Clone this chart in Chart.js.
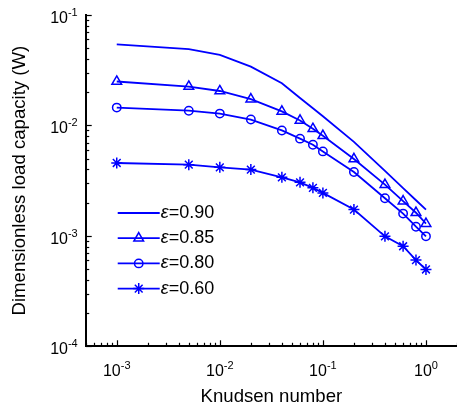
<!DOCTYPE html>
<html>
<head>
<meta charset="utf-8">
<script src="https://cdn.jsdelivr.net/npm/chart.js@4.4.1/dist/chart.umd.min.js"></script>
<style>
  html, body { margin: 0; padding: 0; background: #fff; }
  #wrap { width: 457px; height: 412px; }
</style>
</head>
<body>
<div id="wrap"><canvas id="chart" width="457" height="412"></canvas></div>
<script>
  // Knudsen number (x) and dimensionless load capacity W (y)
  const knudsen = [0.001, 0.005, 0.01, 0.02, 0.04, 0.06, 0.08, 0.1, 0.2, 0.4, 0.6, 0.8, 1.0];
  const eps090 = [0.0543, 0.049, 0.0435, 0.0341, 0.0241, 0.0177, 0.0143, 0.0121, 0.0071, 0.00387, 0.00271, 0.0021, 0.00173];
  const eps085 = [0.025, 0.0225, 0.0205, 0.0173, 0.0134, 0.0111, 0.00933, 0.00807, 0.00497, 0.00291, 0.00206, 0.00162, 0.00129];
  const eps080 = [0.0145, 0.0136, 0.0128, 0.0113, 0.00901, 0.00759, 0.00669, 0.00582, 0.00379, 0.00219, 0.00159, 0.00121, 0.00099];
  const eps060 = [0.00457, 0.00441, 0.00417, 0.00398, 0.00339, 0.00305, 0.00272, 0.00245, 0.00173, 0.00099, 0.000805, 0.000603, 0.000496];

  const seriesLabels = ['ε=0.90', 'ε=0.85', 'ε=0.80', 'ε=0.60'];
  const xDecades = [-3, -2, -1, 0];
  const yDecades = [-4, -3, -2, -1];
  const xRange = [5e-4, 2];
  const yRange = [1e-4, 1e-1];

  const BLUE = '#0000ff';
  const FONT = '"Liberation Sans", Arial, sans-serif';

  function logTicks(min, max) {
    const out = [];
    for (let e = Math.floor(Math.log10(min)); e <= Math.ceil(Math.log10(max)); e++) {
      for (let m = 1; m < 10; m++) {
        const v = m * Math.pow(10, e);
        if (v >= min * 0.999 && v <= max * 1.001) out.push({ v, major: m === 1 });
      }
    }
    return out;
  }

  // "10" with a raised exponent, the way the original axis labels look
  function powerLabel(ctx, exp, x, baseline, align) {
    ctx.font = '16px ' + FONT;
    const wBase = ctx.measureText('10').width;
    ctx.font = '11px ' + FONT;
    const expText = String(exp);
    const wExp = ctx.measureText(expText).width;
    const total = wBase + wExp;
    const start = align === 'center' ? x - total / 2 : x - total;
    ctx.textAlign = 'left';
    ctx.textBaseline = 'alphabetic';
    ctx.font = '16px ' + FONT;
    ctx.fillText('10', start, baseline);
    ctx.font = '11px ' + FONT;
    ctx.fillText(expText, start + wBase, baseline - 7);
  }

  const axesPlugin = {
    id: 'matlabAxes',
    afterDraw(chart) {
      const { ctx, chartArea: a, scales: { x, y } } = chart;
      ctx.save();
      ctx.strokeStyle = '#000';
      ctx.fillStyle = '#000';
      ctx.lineWidth = 1.2;

      logTicks(xRange[0], xRange[1]).forEach((t) => {
        const px = Math.round(x.getPixelForValue(t.v)) + 0.5;
        const len = t.major ? 6 : 3.5;
        ctx.beginPath();
        ctx.moveTo(px, a.bottom);
        ctx.lineTo(px, a.bottom - len);
        ctx.stroke();
      });
      logTicks(yRange[0], yRange[1]).forEach((t) => {
        const py = Math.round(y.getPixelForValue(t.v)) + 0.5;
        const len = t.major ? 6 : 3.5;
        ctx.beginPath();
        ctx.moveTo(a.left, py);
        ctx.lineTo(a.left + len, py);
        ctx.stroke();
      });

      xDecades.forEach((e) => {
        powerLabel(ctx, e, x.getPixelForValue(Math.pow(10, e)), a.bottom + 30, 'center');
      });
      yDecades.forEach((e) => {
        powerLabel(ctx, e, a.left - 8, y.getPixelForValue(Math.pow(10, e)) + 8, 'right');
      });
      ctx.restore();
    }
  };

  const legendPlugin = {
    id: 'insideLegend',
    afterDraw(chart) {
      const { ctx, chartArea: a } = chart;
      const drawPoint = Chart.helpers && Chart.helpers.drawPoint;
      ctx.save();
      chart.data.datasets.forEach((ds, i) => {
        const yc = a.top + 198 + i * 25.2;
        const x0 = a.left + 32;
        const x1 = a.left + 74;
        ctx.strokeStyle = BLUE;
        ctx.lineWidth = ds.borderWidth;
        ctx.beginPath();
        ctx.moveTo(x0, yc);
        ctx.lineTo(x1, yc);
        ctx.stroke();
        if (ds.pointRadius > 0 && drawPoint) {
          ctx.fillStyle = 'rgba(0,0,0,0)';
          ctx.lineWidth = ds.pointBorderWidth;
          drawPoint(ctx, { pointStyle: ds.pointStyle, radius: ds.pointRadius, rotation: 0, borderWidth: ds.pointBorderWidth }, (x0 + x1) / 2, yc);
        }
        ctx.fillStyle = '#000';
        ctx.textBaseline = 'middle';
        ctx.textAlign = 'left';
        ctx.font = 'italic 18px ' + FONT;
        const g = ds.label.charAt(0);
        ctx.fillText(g, x1 + 1, yc);
        const wg = ctx.measureText(g).width;
        ctx.font = '18px ' + FONT;
        ctx.fillText(ds.label.slice(1), x1 + 1 + wg, yc);
      });
      ctx.restore();
    }
  };

  function makeSeries(label, values, pointStyle, radius) {
    return {
      label,
      data: knudsen.map((k, i) => ({ x: k, y: values[i] })),
      borderColor: BLUE,
      backgroundColor: 'rgba(0,0,0,0)',
      borderWidth: 1.8,
      pointStyle,
      pointRadius: radius,
      pointBorderWidth: 1.5,
      pointBorderColor: BLUE,
      pointBackgroundColor: 'rgba(0,0,0,0)',
      tension: 0,
      fill: false
    };
  }

  new Chart(document.getElementById('chart'), {
    type: 'line',
    data: {
      datasets: [
        makeSeries(seriesLabels[0], eps090, 'circle', 0),
        makeSeries(seriesLabels[1], eps085, 'triangle', 5.6),
        makeSeries(seriesLabels[2], eps080, 'circle', 4.2),
        makeSeries(seriesLabels[3], eps060, 'star', 5.5)
      ]
    },
    options: {
      responsive: false,
      animation: false,
      devicePixelRatio: 1,
      layout: { autoPadding: false, padding: { top: 15, left: 0, right: 0, bottom: 0 } },
      plugins: {
        legend: { display: false },
        tooltip: { enabled: false }
      },
      scales: {
        x: {
          type: 'logarithmic',
          position: 'bottom',
          min: xRange[0],
          max: xRange[1],
          grid: { display: false, drawTicks: true, tickLength: 39.4 },
          border: { display: true, color: '#000', width: 2 },
          ticks: { display: false },
          title: {
            display: true,
            text: 'Knudsen number',
            color: '#000',
            font: { size: 18.6, family: FONT },
            padding: { top: 0, bottom: 4 }
          }
        },
        y: {
          type: 'logarithmic',
          position: 'left',
          min: yRange[0],
          max: yRange[1],
          grid: { display: false, drawTicks: true, tickLength: 47 },
          border: { display: true, color: '#000', width: 2 },
          ticks: { display: false },
          title: {
            display: true,
            text: 'Dimensionless load capacity (W)',
            color: '#000',
            font: { size: 18.6, family: FONT },
            padding: { top: 9, bottom: 7.4 }
          }
        }
      }
    },
    plugins: [axesPlugin, legendPlugin]
  });
</script>
</body>
</html>
